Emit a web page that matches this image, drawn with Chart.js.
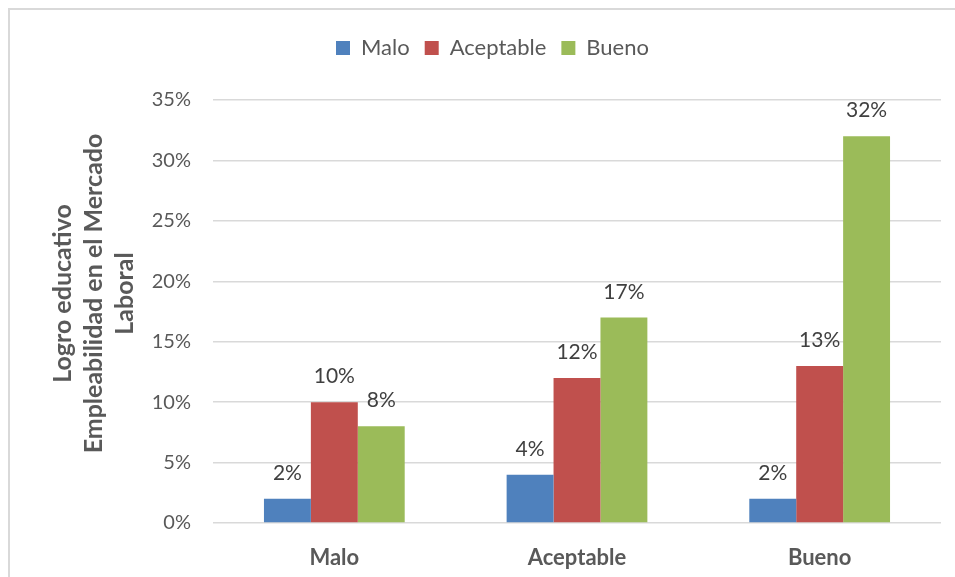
<!DOCTYPE html>
<html>
<head>
<meta charset="utf-8">
<script src="https://cdn.jsdelivr.net/npm/chart.js@4.4.0/dist/chart.umd.min.js"></script>
<style>
  html, body { margin: 0; padding: 0; background: #fff; overflow: hidden; }
  #frame { position: absolute; left: 8px; top: 8px; width: 1000px; height: 700px; border: 2px solid #d9d9d9; }
  #wrap { position: absolute; left: 0; top: 0; width: 955px; height: 577px; }
</style>
</head>
<body>
<div id="frame"></div>
<div id="wrap"><canvas id="chart" width="955" height="577"></canvas></div>
<script>
// Categories and series (percent values)
const categories = ['Malo', 'Aceptable', 'Bueno'];
const malo = [2, 4, 2];
const aceptable = [10, 12, 13];
const bueno = [8, 17, 32];
const yTitle = ['Logro educativo', 'Empleabilidad en el Mercado', 'Laboral'];

const FONT = 'Lato, "Open Sans", sans-serif';

// Push the plot down below the legend and nudge the legend right
const legendSpace = {
    id: 'legendSpace',
    beforeInit(chart) {
        const fit = chart.legend.fit;
        chart.legend.fit = function () {
            fit.bind(chart.legend)();
            this.height += 31;
        };
    },
    afterLayout(chart) {
        chart.legend.left += 22;
        chart.legend.right += 22;
    }
};

// Value labels above each bar
const barLabels = {
    id: 'barLabels',
    afterDatasetsDraw(chart) {
        const ctx = chart.ctx;
        ctx.save();
        ctx.font = '21px ' + FONT;
        ctx.fillStyle = '#404040';
        ctx.textAlign = 'center';
        ctx.textBaseline = 'alphabetic';
        chart.data.datasets.forEach((ds, i) => {
            chart.getDatasetMeta(i).data.forEach((bar, j) => {
                ctx.fillText(ds.data[j] + '%', bar.x, bar.y - 19);
            });
        });
        ctx.restore();
    }
};

// Three-line rotated title for the y axis
const yAxisTitle = {
    id: 'yAxisTitle',
    afterDraw(chart) {
        const { ctx, chartArea } = chart;
        const cy = (chartArea.top + chartArea.bottom) / 2 - 18;
        ctx.save();
        ctx.font = 'bold 25px ' + FONT;
        ctx.fillStyle = '#595959';
        ctx.textAlign = 'center';
        ctx.textBaseline = 'middle';
        yTitle.forEach((line, i) => {
            ctx.save();
            ctx.translate(63 + i * 31, cy);
            ctx.rotate(-Math.PI / 2);
            ctx.fillText(line, 0, 0);
            ctx.restore();
        });
        ctx.restore();
    }
};

new Chart(document.getElementById('chart'), {
    type: 'bar',
    data: {
        labels: categories,
        datasets: [
            { label: 'Malo', data: malo, backgroundColor: '#4f81bd' },
            { label: 'Aceptable', data: aceptable, backgroundColor: '#c0504d' },
            { label: 'Bueno', data: bueno, backgroundColor: '#9bbb59' }
        ]
    },
    options: {
        responsive: false,
        animation: false,
        maintainAspectRatio: false,
        layout: { padding: { top: 22, right: 14, left: 0, bottom: 0 } },
        datasets: { bar: { categoryPercentage: 0.58, barPercentage: 1 } },
        plugins: {
            tooltip: { enabled: false },
            legend: {
                position: 'top',
                labels: {
                    boxWidth: 14,
                    boxHeight: 14,
                    padding: 15,
                    color: '#595959',
                    font: { family: FONT, size: 22 }
                }
            }
        },
        scales: {
            x: {
                grid: { display: false },
                border: { display: false },
                ticks: {
                    color: '#595959',
                    padding: 14,
                    font: { family: FONT, size: 22, weight: 'bold' }
                },
                afterFit(scale) { scale.height = 54; }
            },
            y: {
                min: 0,
                max: 35,
                border: { display: false },
                grid: { color: '#d9d9d9', lineWidth: 1.5, drawTicks: false },
                ticks: {
                    stepSize: 5,
                    padding: 22,
                    color: '#595959',
                    font: { family: FONT, size: 20 },
                    callback: v => v + '%'
                },
                afterFit(scale) { scale.width = 213; }
            }
        }
    },
    plugins: [legendSpace, barLabels, yAxisTitle]
});
</script>
</body>
</html>
